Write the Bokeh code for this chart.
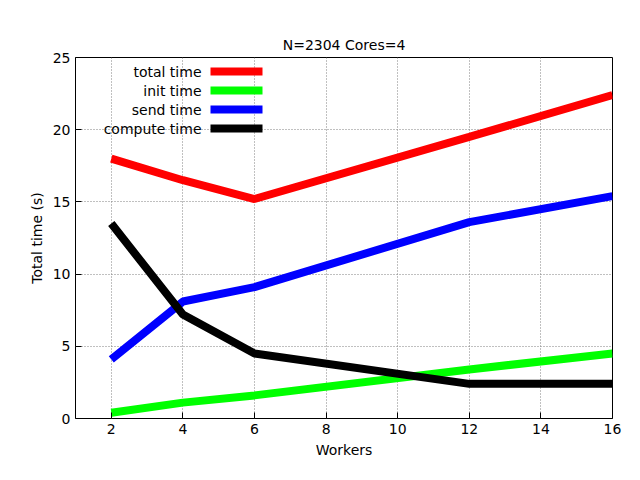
from bokeh.plotting import figure
from bokeh.models import Label, BoxAnnotation, Range1d
from bokeh.embed import file_html
from bokeh.resources import INLINE

workers = [2, 4, 6, 12, 16]
total_time = [18.0, 16.5, 15.2, 19.5, 22.4]
init_time = [0.4, 1.1, 1.6, 3.4, 4.5]
send_time = [4.1, 8.1, 9.1, 13.6, 15.4]
compute_time = [13.5, 7.2, 4.5, 2.4, 2.4]

series = [("total time", total_time, "#ff0000"),
          ("init time", init_time, "#00ff00"),
          ("send time", send_time, "#0000ff"),
          ("compute time", compute_time, "#000000")]

FONT = "DejaVu Sans"

p = figure(width=624, height=464, output_backend="svg", toolbar_location=None,
           x_range=Range1d(1, 16), y_range=Range1d(0, 25),
           min_border_left=75, min_border_right=12, min_border_top=57, min_border_bottom=46,
           title="N=2304 Cores=4", x_axis_label="Workers", y_axis_label="Total time (s)")
p.title.align = "center"
p.title.text_font = FONT
p.title.text_font_size = "14px"
p.title.text_font_style = "normal"
p.title.text_color = "black"
p.outline_line_color = "black"
p.outline_line_width = 1

for ax in (p.xaxis[0], p.yaxis[0]):
    ax.axis_label_text_font = FONT
    ax.axis_label_text_font_size = "14px"
    ax.axis_label_text_font_style = "normal"
    ax.axis_label_text_color = "black"
    ax.major_label_text_font = FONT
    ax.major_label_text_font_size = "14px"
    ax.major_label_text_color = "black"
    ax.major_tick_in = 6
    ax.major_tick_out = 0
    ax.minor_tick_line_color = None
    ax.axis_line_color = None
p.xaxis.ticker = [2, 4, 6, 8, 10, 12, 14, 16]
p.yaxis.ticker = [0, 5, 10, 15, 20, 25]

p.grid.grid_line_color = "#808080"
p.grid.grid_line_dash = "1 2"

for name, vals, col in series:
    p.line(workers, vals, line_color=col, line_width=8)

# gnuplot style key: right-aligned labels, sample line after the label
for i, (name, vals, col) in enumerate(series):
    yy = 347 - i * 19
    p.add_layout(Label(x=126, y=yy, x_units="screen", y_units="screen", text=name,
                       text_align="right", text_baseline="middle", text_color="black",
                       text_font=FONT, text_font_size="14px"))
    p.add_layout(BoxAnnotation(left=135, right=187, bottom=yy - 4, top=yy + 4,
                               left_units="screen", right_units="screen",
                               bottom_units="screen", top_units="screen",
                               fill_color=col, fill_alpha=1, line_color=None))

open("out.html", "w").write(file_html(p, INLINE))
